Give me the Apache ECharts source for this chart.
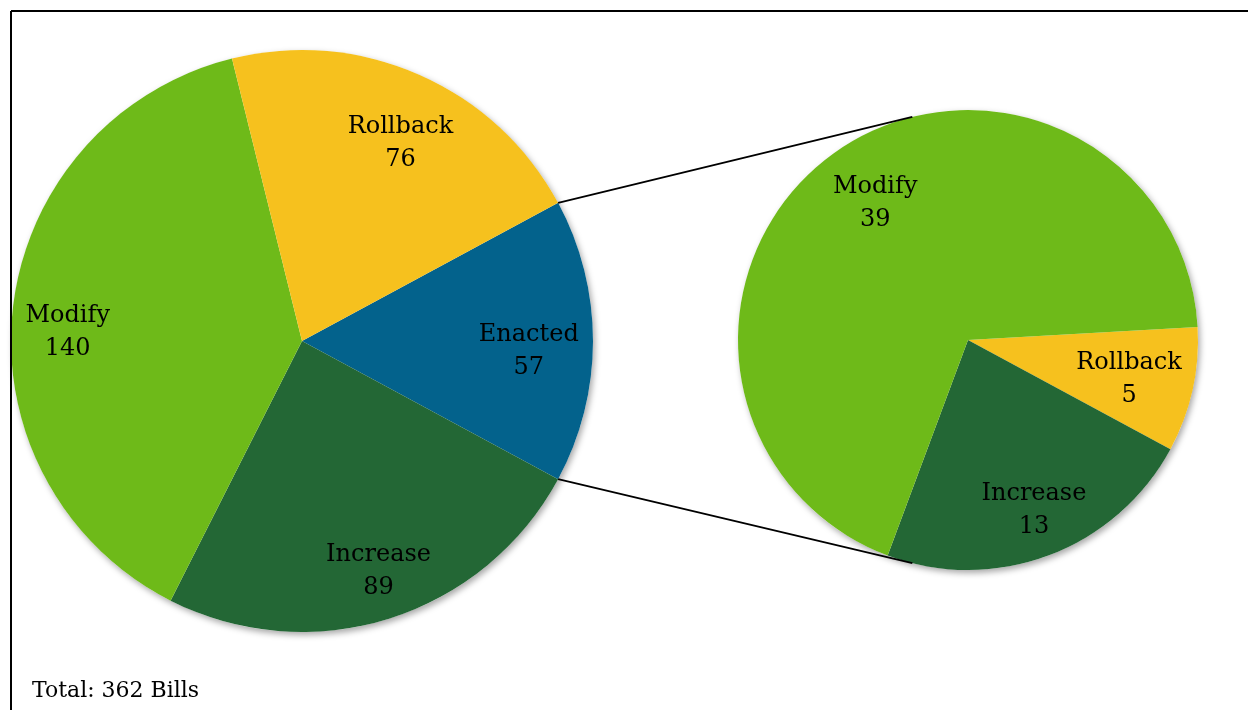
<!DOCTYPE html>
<html>
<head>
<meta charset="utf-8">
<script src="https://cdn.jsdelivr.net/npm/echarts@6/dist/echarts.min.js"></script>
<style>html,body{margin:0;padding:0;background:#fff;}#chart{width:1248px;height:710px;}</style>
</head>
<body>
<div id="chart"></div>
<script>
// Data
const mainCategories = ['Enacted', 'Increase', 'Modify', 'Rollback'];
const mainValues = [57, 89, 140, 76];
const subCategories = ['Rollback', 'Increase', 'Modify'];
const subValues = [5, 13, 39];
const totalLabel = 'Total: 362 Bills';

// Styling
const colorMap = {
  Enacted: '#03628C',
  Increase: '#236735',
  Modify: '#6EBA19',
  Rollback: '#F6C11E'
};
// small label nudges (dx, dy) in pixels
const mainNudge = { Enacted: [-9, 10], Increase: [6, 5], Modify: [0, 18], Rollback: [3, 18] };
const subNudge = { Rollback: [-8, 2], Increase: [5, 8], Modify: [10, 3] };

const FONT = '"DejaVu Serif", serif';
const main = { cx: 302, cy: 341, r: 291 };
const sub = { cx: 968, cy: 340, r: 230 };

const mainTotal = mainValues.reduce((a, b) => a + b, 0);
const subTotal = subValues.reduce((a, b) => a + b, 0);
const halfEnacted = mainValues[0] / mainTotal * 180;
const subStartAngle = subValues[0] / subTotal * 360 - halfEnacted;

function mk(cats, vals) {
  return cats.map((c, i) => ({ name: c, value: vals[i], itemStyle: { color: colorMap[c] } }));
}
function mkLabels(cats, vals, nudge) {
  return cats.map((c, i) => ({ name: c, value: vals[i], label: { offset: nudge[c] } }));
}

const labelStyle = {
  show: true,
  position: 'inside',
  formatter: '{b}\n{c}',
  color: '#000',
  fontFamily: FONT,
  fontSize: 24,
  lineHeight: 33
};

const shadowStyle = {
  color: '#fff',
  shadowColor: 'rgba(0,0,0,0.35)',
  shadowBlur: 6,
  shadowOffsetX: 2,
  shadowOffsetY: 3,
  borderWidth: 0
};

const rad = d => d * Math.PI / 180;
const p1a = [main.cx + main.r * Math.cos(rad(halfEnacted)), main.cy - main.r * Math.sin(rad(halfEnacted))];
const p1b = [main.cx + main.r * Math.cos(rad(halfEnacted)), main.cy + main.r * Math.sin(rad(halfEnacted))];
const connAngle = 104;
const p2a = [sub.cx + sub.r * Math.cos(rad(connAngle)), sub.cy - sub.r * Math.sin(rad(connAngle))];
const p2b = [sub.cx + sub.r * Math.cos(rad(connAngle)), sub.cy + sub.r * Math.sin(rad(connAngle))];

const chart = echarts.init(document.getElementById('chart'));
chart.setOption({
  animation: false,
  backgroundColor: '#fff',
  graphic: [
    { type: 'line', shape: { x1: 11, y1: 11, x2: 1248, y2: 11 }, style: { stroke: '#000', lineWidth: 2 }, z: 100 },
    { type: 'line', shape: { x1: 11, y1: 11, x2: 11, y2: 710 }, style: { stroke: '#000', lineWidth: 2 }, z: 100 },
    { type: 'line', shape: { x1: p1a[0], y1: p1a[1], x2: p2a[0], y2: p2a[1] }, style: { stroke: '#000', lineWidth: 1.8 }, z: 100 },
    { type: 'line', shape: { x1: p1b[0], y1: p1b[1], x2: p2b[0], y2: p2b[1] }, style: { stroke: '#000', lineWidth: 1.8 }, z: 100 },
    { type: 'text', left: 32, top: 680, style: { text: totalLabel, font: '22px ' + FONT, fill: '#000' }, z: 100 }
  ],
  series: [
    {
      type: 'pie', center: [main.cx, main.cy], radius: [0, main.r], z: 1,
      silent: true, label: { show: false }, labelLine: { show: false },
      itemStyle: shadowStyle,
      data: [{ name: 'all', value: mainTotal }]
    },
    {
      type: 'pie', center: [main.cx, main.cy], radius: [0, main.r], z: 2,
      startAngle: halfEnacted, clockwise: true, silent: true,
      label: { show: false }, labelLine: { show: false },
      itemStyle: { borderWidth: 0 },
      data: mk(mainCategories, mainValues)
    },
    {
      type: 'pie', center: [main.cx, main.cy], radius: [main.r * 0.6, main.r], z: 3,
      startAngle: halfEnacted, clockwise: true, silent: true,
      itemStyle: { color: 'rgba(0,0,0,0)', borderWidth: 0 },
      label: labelStyle, labelLine: { show: false },
      data: mkLabels(mainCategories, mainValues, mainNudge)
    },
    {
      type: 'pie', center: [sub.cx, sub.cy], radius: [0, sub.r], z: 1,
      silent: true, label: { show: false }, labelLine: { show: false },
      itemStyle: shadowStyle,
      data: [{ name: 'all', value: subTotal }]
    },
    {
      type: 'pie', center: [sub.cx, sub.cy], radius: [0, sub.r], z: 2,
      startAngle: subStartAngle, clockwise: true, silent: true,
      label: { show: false }, labelLine: { show: false },
      itemStyle: { borderWidth: 0 },
      data: mk(subCategories, subValues)
    },
    {
      type: 'pie', center: [sub.cx, sub.cy], radius: [sub.r * 0.48, sub.r], z: 3,
      startAngle: subStartAngle, clockwise: true, silent: true,
      itemStyle: { color: 'rgba(0,0,0,0)', borderWidth: 0 },
      label: labelStyle, labelLine: { show: false },
      data: mkLabels(subCategories, subValues, subNudge)
    }
  ]
});
</script>
</body>
</html>
